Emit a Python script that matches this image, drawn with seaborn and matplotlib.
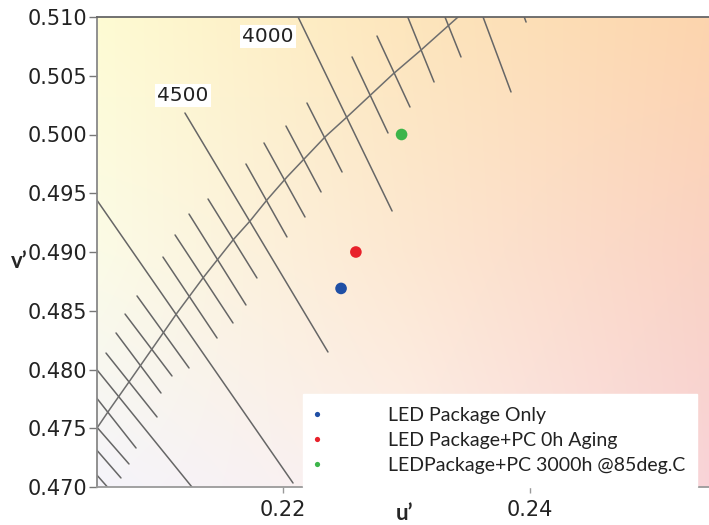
import numpy as np
import pandas as pd
import matplotlib
matplotlib.use("Agg")
import matplotlib.pyplot as plt
import seaborn as sns
from matplotlib.colors import to_rgb

# measured chromaticity points (u', v')
sample_names = ["LED Package Only", "LED Package+PC 0h Aging", "LEDPackage+PC 3000h @85deg.C"]
sample_u = [0.2247, 0.2259, 0.2296]
sample_v = [0.4869, 0.4900, 0.5000]
sample_colors = ["#1f4fa5", "#e8212b", "#3cb54a"]

# planckian locus
locus_u = [0.20397, 0.20494, 0.20599, 0.20753, 0.20939, 0.21142, 0.21352, 0.21595,
           0.21733, 0.21870, 0.22032, 0.22340, 0.22518, 0.22891, 0.23109, 0.23417, 0.23595]
locus_v = [0.47349, 0.47502, 0.47664, 0.47894, 0.48174, 0.48481, 0.48779, 0.49102,
           0.49264, 0.49443, 0.49638, 0.49979, 0.50149, 0.50515, 0.50711, 0.51000, 0.51162]

# isotherm segments: CCT and the two end points
iso_cct = [3400, 3500, 3600, 3700, 3800, 3900, 4000, 4100, 4200, 4300, 4400, 4500, 4600,
           4700, 4800, 4900, 5000, 5100, 5200, 5300, 5400, 5500, 5600, 5700, 5800, 5900]
iso_u0 = [0.23895, 0.23538, 0.23279, 0.22964, 0.22761, 0.22559, 0.22016, 0.22194, 0.22024,
          0.21846, 0.21700, 0.21206, 0.21393, 0.21239, 0.21126, 0.21028, 0.20397, 0.20818,
          0.20721, 0.20648, 0.20567, 0.20397, 0.20421, 0.20421, 0.20421, 0.20421]
iso_v0 = [0.51170, 0.51230, 0.51085, 0.51119, 0.50838, 0.50660, 0.51230, 0.50268, 0.50072,
          0.49928, 0.49749, 0.50183, 0.49451, 0.49323, 0.49145, 0.48957, 0.49587, 0.48626,
          0.48472, 0.48311, 0.48140, 0.48123, 0.47851, 0.47596, 0.47400, 0.47187]
iso_u1 = [0.23968, 0.23846, 0.23441, 0.23223, 0.23028, 0.22850, 0.22883, 0.22478, 0.22308,
          0.22178, 0.22032, 0.22364, 0.21789, 0.21700, 0.21595, 0.21466, 0.22081, 0.21239,
          0.21101, 0.21012, 0.20980, 0.21328, 0.20810, 0.20753, 0.20688, 0.20607]
iso_v1 = [0.50957, 0.50362, 0.50660, 0.50447, 0.50234, 0.50013, 0.49349, 0.49681, 0.49511,
          0.49298, 0.49128, 0.48149, 0.48779, 0.48549, 0.48396, 0.48268, 0.47034, 0.48013,
          0.47945, 0.47800, 0.47596, 0.46915, 0.47332, 0.47196, 0.47077, 0.46966]

# CCT labels
label_text = ["4000", "4500"]
label_u = [0.2188, 0.2119]
label_v = [0.5083, 0.5033]

x_ticks = [0.22, 0.24]
y_ticks = [0.470, 0.475, 0.480, 0.485, 0.490, 0.495, 0.500, 0.505, 0.510]
x_lim = (0.20494, 0.25449)
y_lim = (0.470, 0.510)

# background tint (top row first, left to right)
bg_colors = [["#fefbd3", "#fde6bd", "#fdd5ae"],
             ["#fbfbe6", "#fde8d2", "#fad3c4"],
             ["#f5f4fa", "#fcefec", "#f8d4d8"]]

sns.set_style("white")
plt.rcParams["font.family"] = ["DejaVu Sans"]

fig = plt.figure(figsize=(7.09, 5.25), dpi=100)
ax = fig.add_axes([97 / 709, 38 / 525, 612 / 709, 470 / 525])

# smooth background gradient
grid = np.array([[to_rgb(c) for c in row] for row in bg_colors])
t = np.linspace(0, 2, 80)
rows = np.stack([np.stack([np.interp(t, [0, 1, 2], grid[r, :, c]) for c in range(3)], -1) for r in range(3)])
bg = np.stack([np.stack([np.interp(t, [0, 1, 2], rows[:, j, c]) for c in range(3)], -1) for j in range(len(t))], 1)
ax.imshow(bg, extent=[x_lim[0], x_lim[1], y_lim[0], y_lim[1]], aspect="auto",
          interpolation="bilinear", zorder=0)

# isotherms
iso = pd.DataFrame({
    "cct": iso_cct + iso_cct,
    "u": iso_u0 + iso_u1,
    "v": iso_v0 + iso_v1,
})
sns.lineplot(data=iso, x="u", y="v", units="cct", estimator=None, sort=False,
             color="#666666", lw=1.1, ax=ax, zorder=2)

# planckian locus
locus = pd.DataFrame({"u": locus_u, "v": locus_v})
sns.lineplot(data=locus, x="u", y="v", sort=False, color="#6e6e6e", lw=1.1, ax=ax, zorder=2)

for txt, lu, lv in zip(label_text, label_u, label_v):
    ax.text(lu, lv, txt, fontsize=14.5, color="#222222", ha="center", va="center", zorder=3,
            bbox=dict(facecolor="white", edgecolor="none", pad=1.5))

# samples
pts = pd.DataFrame({"name": sample_names, "u": sample_u, "v": sample_v})
sns.scatterplot(data=pts, x="u", y="v", hue="name", palette=sample_colors, s=70,
                edgecolor="none", ax=ax, zorder=5)

ax.set_xlim(x_lim)
ax.set_ylim(y_lim)
ax.set_xticks(x_ticks)
ax.set_xticklabels([f"{x:.2f}" for x in x_ticks])
ax.set_yticks(y_ticks)
ax.set_yticklabels([f"{y:.3f}" for y in y_ticks])
ax.tick_params(axis="y", direction="out", length=6, width=1, color="#777777", pad=1,
               labelsize=15, labelcolor="#222222", left=True)
ax.tick_params(axis="x", direction="out", length=4, width=1, color="#999999", pad=5,
               labelsize=15, labelcolor="#222222", bottom=True)

for side in ["left", "bottom", "top"]:
    ax.spines[side].set_visible(True)
    ax.spines[side].set_linewidth(1.3)
ax.spines["left"].set_color("#888888")
ax.spines["bottom"].set_color("#9a9a9a")
ax.spines["top"].set_color("#666666")
ax.spines["right"].set_visible(False)

ax.set_xlabel("u’", fontsize=16, fontweight="bold", family="Lato")
ax.xaxis.set_label_coords(0.503, -0.033)
ax.set_ylabel("v’", fontsize=16, fontweight="bold", family="Lato", rotation=0, va="center", ha="center")
ax.yaxis.set_label_coords(-0.127, 0.48)

sns.move_legend(ax, "lower left", bbox_to_anchor=(0.3366, 0.0, 0.6438, 0.2128), mode="expand",
                title=None, frameon=True, fancybox=False, framealpha=1, edgecolor="white",
                markerscale=0.45, handlelength=0.1, handletextpad=3.6, borderpad=0.68,
                labelspacing=0.4, borderaxespad=0,
                prop={"family": "Lato", "size": 14})
leg = ax.get_legend()
for text in leg.get_texts():
    text.set_color("#222222")

fig.savefig("out.png", dpi=100)
